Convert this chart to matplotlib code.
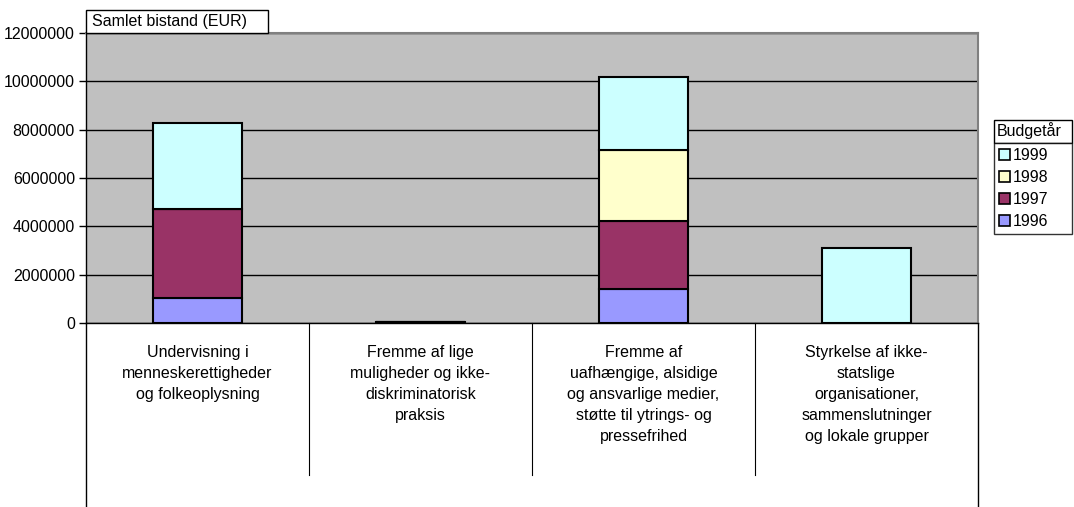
#!/usr/bin/env python3
import matplotlib
matplotlib.use("Agg")
import matplotlib.pyplot as plt
from matplotlib.patches import Rectangle, Patch
from matplotlib.ticker import FuncFormatter

categories = [
    "Undervisning i\nmenneskerettigheder\nog folkeoplysning",
    "Fremme af lige\nmuligheder og ikke-\ndiskriminatorisk\npraksis",
    "Fremme af\nuafhængige, alsidige\nog ansvarlige medier,\nstøtte til ytrings- og\npressefrihed",
    "Styrkelse af ikke-\nstatslige\norganisationer,\nsammenslutninger\nog lokale grupper",
]
years = ["1996", "1997", "1998", "1999"]
values = {
    "1996": [1050000, 0, 1400000, 0],
    "1997": [3670000, 60000, 2810000, 0],
    "1998": [0, 0, 2950000, 0],
    "1999": [3550000, 0, 3020000, 3100000],
}
colors = {"1996": "#9999FF", "1997": "#993366", "1998": "#FFFFCC", "1999": "#CCFFFF"}

W, H = 1074, 507


def fx(px):
    return px / W


def fy(py):
    return 1 - py / H


def main():
    plt.rcParams["font.family"] = ["Liberation Sans", "DejaVu Sans"]
    fig = plt.figure(figsize=(W / 100, H / 100), dpi=100)
    left, right, top, bottom = 86, 978, 33, 323
    ax = fig.add_axes([fx(left), fy(bottom), fx(right - left), (bottom - top) / H])
    ax.set_facecolor("#C0C0C0")

    x = list(range(len(categories)))
    base = [0] * len(categories)
    for y in years:
        ax.bar(x, values[y], bottom=base, width=0.4, color=colors[y],
               edgecolor="black", linewidth=1.5, zorder=3)
        base = [b + v for b, v in zip(base, values[y])]

    ax.set_xlim(-0.5, 3.5)
    ax.set_ylim(0, 12000000)
    ax.set_yticks(range(0, 12000001, 2000000))
    ax.yaxis.set_major_formatter(FuncFormatter(lambda v, p: f"{int(v)}"))
    ax.tick_params(axis="y", direction="out", length=5, width=1, labelsize=11.5, pad=3)
    ax.set_xticks([])
    ax.grid(axis="y", color="black", linewidth=1, zorder=1)
    ax.set_axisbelow(True)
    for s in ["top", "right"]:
        ax.spines[s].set_color("#808080")
        ax.spines[s].set_linewidth(1.5)
    for s in ["left", "bottom"]:
        ax.spines[s].set_color("black")
        ax.spines[s].set_linewidth(1)

    # category table below the axis
    tr = ax.get_xaxis_transform()
    sep_bottom = (bottom - 475) / (bottom - top)
    box_bottom = (bottom - 507) / (bottom - top)
    for xs in [0.5, 1.5, 2.5]:
        ax.plot([xs, xs], [0, sep_bottom], color="black", linewidth=0.8,
                transform=tr, clip_on=False)
    for xs in [-0.5, 3.5]:
        ax.plot([xs, xs], [0, box_bottom], color="black", linewidth=1,
                transform=tr, clip_on=False)
    for i, c in enumerate(categories):
        ax.text(i, (bottom - 345) / (bottom - top), c, transform=tr, ha="center",
                va="top", fontsize=11.5, linespacing=1.5, multialignment="center")

    # y-axis title box
    fig.patches.append(Rectangle((fx(86), fy(33)), fx(268 - 86), (33 - 10) / H,
                                 transform=fig.transFigure, facecolor="white",
                                 edgecolor="black", linewidth=1))
    fig.text(fx(92), fy(21.5), "Samlet bistand (EUR)", fontsize=11.5, va="center", ha="left")

    # legend
    fig.patches.append(Rectangle((fx(994), fy(143)), fx(1072 - 994), (143 - 120) / H,
                                 transform=fig.transFigure, facecolor="white",
                                 edgecolor="black", linewidth=1))
    fig.text(fx(997), fy(131), "Budgetår", fontsize=11.5, va="center", ha="left")
    handles = [Patch(facecolor=colors[y], edgecolor="black", linewidth=1.2, label=y)
               for y in reversed(years)]
    leg = fig.legend(handles=handles, loc="upper left", mode="expand",
                     bbox_to_anchor=(fx(994), fy(236), fx(1072 - 994), (236 - 143) / H),
                     bbox_transform=fig.transFigure,
                     fontsize=11.5, frameon=True, fancybox=False, borderaxespad=0,
                     handlelength=0.7, handleheight=0.7, handletextpad=0.15,
                     labelspacing=0.45, borderpad=0.3)
    leg.get_frame().set_edgecolor("black")
    leg.get_frame().set_linewidth(1)

    fig.savefig("out.png", dpi=100)
    return 0


if __name__ == "__main__":
    main()
